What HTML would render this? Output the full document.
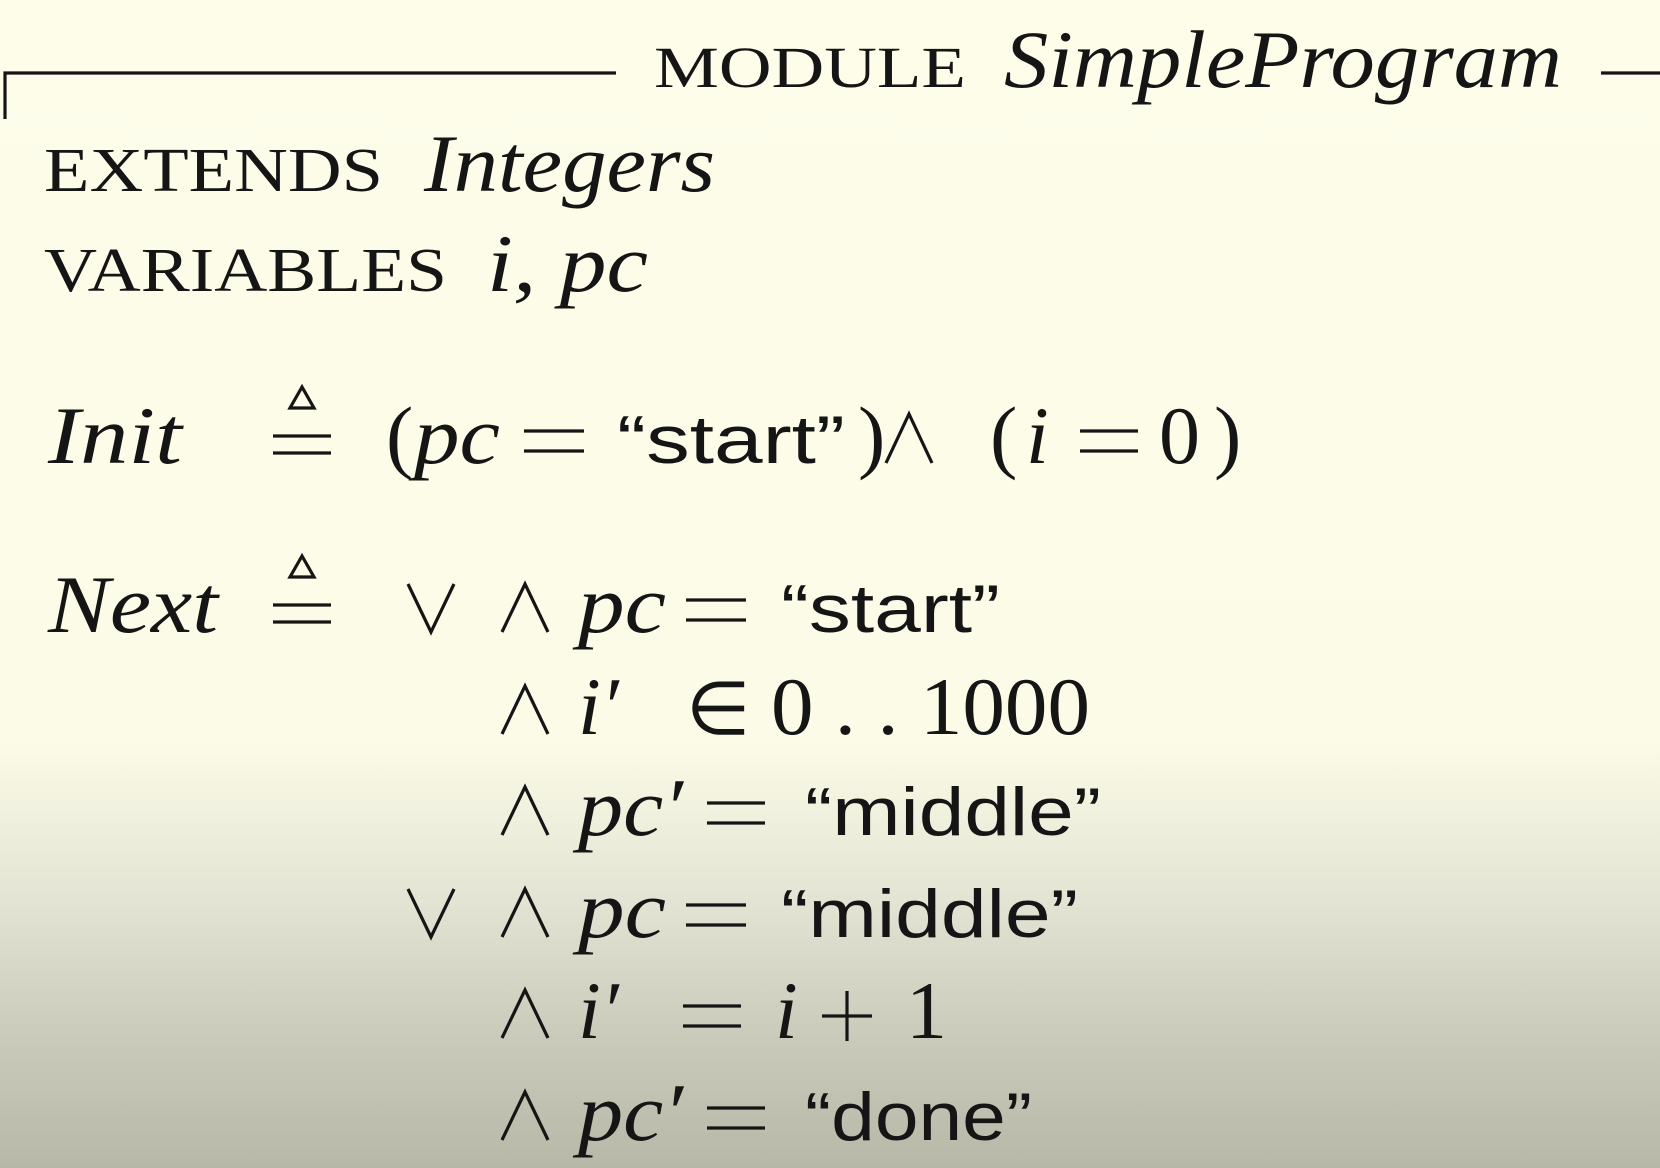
<!DOCTYPE html>
<html><head><meta charset="utf-8"><style>
html,body{margin:0;padding:0;}
body{width:1660px;height:1168px;overflow:hidden;background:linear-gradient(to bottom,#fdfdea 0px,#fbfbe7 740px,#e4e4d4 900px,#cacabb 1040px,#b8b8a8 1168px);}
svg{position:absolute;left:0;top:0;}
.s{font-family:"Liberation Serif",serif;fill:#151515;}
.i{font-family:"Liberation Serif",serif;font-style:italic;fill:#151515;}
.n{font-family:"Liberation Sans",sans-serif;fill:#151515;}
line,polyline,polygon{stroke:#151515;fill:none;stroke-width:3.2;}
</style></head><body>
<svg width="1660" height="1168" viewBox="0 0 1660 1168">
<polyline points="5,119 5,73 616,73" stroke-width="3"/>
<line x1="1601" y1="73" x2="1660" y2="73" stroke-width="3"/>
<text class="s" x="654" y="87" font-size="58" textLength="312" lengthAdjust="spacingAndGlyphs">MODULE</text>
<text class="i" x="1004" y="87" font-size="82" textLength="558" lengthAdjust="spacingAndGlyphs">SimpleProgram</text>

<text class="s" x="44" y="191" font-size="62" textLength="339" lengthAdjust="spacingAndGlyphs">EXTENDS</text>
<text class="i" x="424" y="191" font-size="82" textLength="291" lengthAdjust="spacingAndGlyphs">Integers</text>
<text class="s" x="44" y="291" font-size="62" textLength="403" lengthAdjust="spacingAndGlyphs">VARIABLES</text>
<text class="i" x="487" y="291" font-size="82" textLength="161" lengthAdjust="spacingAndGlyphs">i, pc</text>

<text class="i" x="48" y="463" font-size="82" textLength="134" lengthAdjust="spacingAndGlyphs">Init</text>
<g id="def">
<line x1="273" y1="436" x2="331" y2="436"/>
<line x1="273" y1="453" x2="331" y2="453"/>
<polygon points="302,387 290,408 314,408" stroke-width="2.6"/>
</g>
<text class="s" x="386" y="463" font-size="82">(</text>
<text class="i" x="414" y="463" font-size="82" textLength="86" lengthAdjust="spacingAndGlyphs">pc</text>
<line x1="524" y1="431" x2="584" y2="431"/><line x1="524" y1="451" x2="584" y2="451"/>
<text class="n" x="617" y="463" font-size="68" textLength="228" lengthAdjust="spacingAndGlyphs">“start”</text>
<text class="s" x="858" y="463" font-size="82">)</text>
<polyline points="886,463 909,414 932,463"/>
<text class="s" x="990" y="463" font-size="82">(</text>
<text class="i" x="1026" y="463" font-size="82">i</text>
<line x1="1080" y1="431" x2="1138" y2="431"/><line x1="1080" y1="451" x2="1138" y2="451"/>
<text class="s" x="1159" y="463" font-size="82">0</text>
<text class="s" x="1214" y="463" font-size="82">)</text>

<text class="i" x="48" y="632" font-size="82" textLength="170" lengthAdjust="spacingAndGlyphs">Next</text>
<use href="#def" y="169"/>

<polyline points="408,584 431,632 454,584"/>
<polyline points="502,632 525,584 548,632"/>
<text class="i" x="578" y="632" font-size="82" textLength="88" lengthAdjust="spacingAndGlyphs">pc</text>
<line x1="686" y1="600" x2="746" y2="600"/><line x1="686" y1="620" x2="746" y2="620"/>
<text class="n" x="781" y="632" font-size="68" textLength="219" lengthAdjust="spacingAndGlyphs">“start”</text>

<polyline points="502,734 525,686 548,734"/>
<text class="i" x="578" y="734" font-size="82">i′</text>
<text class="s" x="686" y="734" font-size="74">∈</text>
<text class="s" x="771" y="734" font-size="82" textLength="319" lengthAdjust="spacingAndGlyphs">0 . . 1000</text>

<polyline points="502,835 525,787 548,835"/>
<text class="i" x="578" y="835" font-size="82" textLength="105" lengthAdjust="spacingAndGlyphs">pc′</text>
<line x1="707" y1="803" x2="765" y2="803"/><line x1="707" y1="823" x2="765" y2="823"/>
<text class="n" x="805" y="835" font-size="68" textLength="296" lengthAdjust="spacingAndGlyphs">“middle”</text>

<polyline points="408,889 431,937 454,889"/>
<polyline points="502,937 525,889 548,937"/>
<text class="i" x="578" y="937" font-size="82" textLength="88" lengthAdjust="spacingAndGlyphs">pc</text>
<line x1="686" y1="905" x2="746" y2="905"/><line x1="686" y1="925" x2="746" y2="925"/>
<text class="n" x="781" y="937" font-size="68" textLength="297" lengthAdjust="spacingAndGlyphs">“middle”</text>

<polyline points="502,1038 525,990 548,1038"/>
<text class="i" x="578" y="1038" font-size="82">i′</text>
<line x1="683" y1="1006" x2="741" y2="1006"/><line x1="683" y1="1026" x2="741" y2="1026"/>
<text class="i" x="775" y="1038" font-size="82">i</text>
<line x1="822" y1="1016" x2="872" y2="1016"/><line x1="847" y1="991" x2="847" y2="1041"/>
<text class="s" x="906" y="1038" font-size="82">1</text>

<polyline points="502,1140 525,1092 548,1140"/>
<text class="i" x="578" y="1140" font-size="82" textLength="105" lengthAdjust="spacingAndGlyphs">pc′</text>
<line x1="707" y1="1108" x2="765" y2="1108"/><line x1="707" y1="1128" x2="765" y2="1128"/>
<text class="n" x="805" y="1140" font-size="68" textLength="227" lengthAdjust="spacingAndGlyphs">“done”</text>
</svg>
</body></html>
